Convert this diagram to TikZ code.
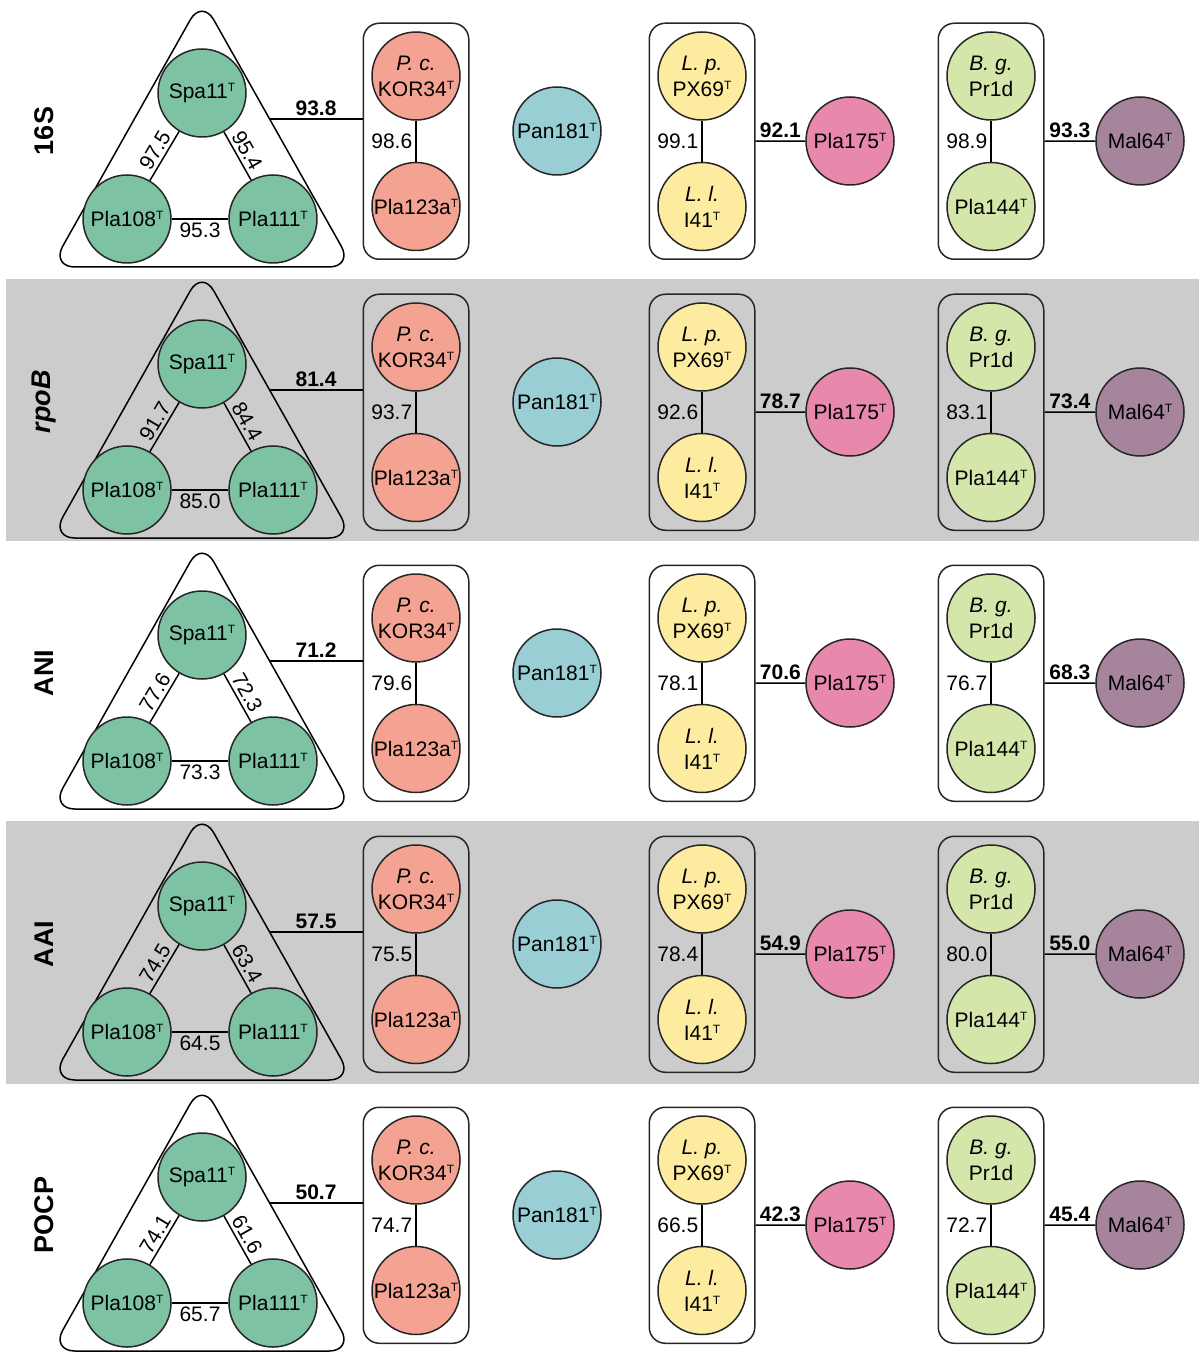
\documentclass[tikz,border=0pt]{standalone}
\usepackage{fontspec}
\setmainfont{Liberation Sans}
\usetikzlibrary{calc,positioning,fit}
\definecolor{spagreen}{RGB}{126,194,164}
\definecolor{pcsalmon}{RGB}{244,163,146}
\definecolor{pancyan}{RGB}{152,206,212}
\definecolor{lpyellow}{RGB}{253,236,160}
\definecolor{plapink}{RGB}{231,136,172}
\definecolor{bglime}{RGB}{212,230,170}
\definecolor{malmauve}{RGB}{166,132,156}
\definecolor{band}{RGB}{204,204,204}
\newcommand{\supT}{\raisebox{3.4pt}{\fontsize{6}{6}\selectfont T}}
\tikzset{
	strain/.style={draw=black!85,circle,minimum size=44pt,inner sep=0pt,
		align=center,font=\fontsize{10.5}{13}\selectfont},
	grp/.style={draw=black!85,rounded corners=8pt,inner sep=4pt},
	val/.style={font=\fontsize{10.5}{12}\selectfont,inner sep=1.5pt},
	hi/.style={val,font=\fontsize{10.5}{12}\selectfont\bfseries},
	rowlab/.style={font=\fontsize{13.5}{15}\selectfont\bfseries,rotate=90}
}

\begin{document}
\begin{tikzpicture}[x=0.5pt,y=-0.5pt,line width=0.75pt,node distance=20.5pt]
\useasboundingbox (0,0) rectangle (1199,1352);

% shaded rows
\fill[band] (6,279) rectangle (1199,541);
\fill[band] (6,821) rectangle (1199,1084);

\foreach \i/\oy/\mlab/\vl/\vr/\vb/\vt/\vpc/\vlp/\vlpx/\vbg/\vbgx in {
	1/0/16S/97.5/95.4/95.3/93.8/98.6/99.1/92.1/98.9/93.3,
	2/271/\textit{rpoB}/91.7/84.4/85.0/81.4/93.7/92.6/78.7/83.1/73.4,
	3/542/ANI/77.6/72.3/73.3/71.2/79.6/78.1/70.6/76.7/68.3,
	4/813/AAI/74.5/63.4/64.5/57.5/75.5/78.4/54.9/80.0/55.0,
	5/1084/POCP/74.1/61.6/65.7/50.7/74.7/66.5/42.3/72.7/45.4}{
\begin{scope}[shift={(0,\oy)}]
\node[rowlab] (lab\i) at (44,131) {\mlab};

% triangle group
\coordinate (apex\i) at (202,-1);
\coordinate (bl\i) at (51,267);
\coordinate (br\i) at (353,267);
\draw[rounded corners=12pt] (202,267) -- (br\i) -- (apex\i) -- (bl\i) -- cycle;
\path (apex\i) -- (br\i) coordinate[pos=0.448] (tri\i);
\node[strain,fill=spagreen] (spa\i) at (202,93) {Spa11\supT};
\node[strain,fill=spagreen] (p108\i) at (127,219) {Pla108\supT};
\node[strain,fill=spagreen] (p111\i) at (273,219) {Pla111\supT};
\draw (p108\i) -- node[val,sloped,above] {\vl} (spa\i);
\draw (spa\i) -- node[val,sloped,above] {\vr} (p111\i);
\draw (p108\i) -- node[val,below] {\vb} (p111\i);

% P. c. pair
\node[strain,fill=pcsalmon] (pc\i) at (416,76) {\textit{P. c.}\\KOR34\supT};
\node[strain,fill=pcsalmon,below=of pc\i] (p123\i) {Pla123a\supT};
\node[grp,fit=(pc\i)(p123\i)] (g1\i) {};
\draw (pc\i) -- node[val,left] {\vpc} (p123\i);
\draw (tri\i) -- node[hi,above] {\vt} (tri\i -| g1\i.west);

\node[strain,fill=pancyan] (pan\i) at (557,131) {Pan181\supT};

% L. p. pair
\node[strain,fill=lpyellow] (lp\i) at (702,76) {\textit{L. p.}\\PX69\supT};
\node[strain,fill=lpyellow,below=of lp\i] (ll\i) {\textit{L. l.}\\I41\supT};
\node[grp,fit=(lp\i)(ll\i)] (g2\i) {};
\draw (lp\i) -- node[val,left] {\vlp} (ll\i);
\node[strain,fill=plapink] (p175\i) at (850,141) {Pla175\supT};
\draw (g2\i) -- node[hi,above] {\vlpx} (p175\i);

% B. g. pair
\node[strain,fill=bglime] (bg\i) at (991,76) {\textit{B. g.}\\Pr1d};
\node[strain,fill=bglime,below=of bg\i] (p144\i) {Pla144\supT};
\node[grp,fit=(bg\i)(p144\i)] (g3\i) {};
\draw (bg\i) -- node[val,left] {\vbg} (p144\i);
\node[strain,fill=malmauve] (mal\i) at (1140,141) {Mal64\supT};
\draw (g3\i) -- node[hi,above] {\vbgx} (mal\i);
\end{scope}
}

\end{tikzpicture}
\end{document}
